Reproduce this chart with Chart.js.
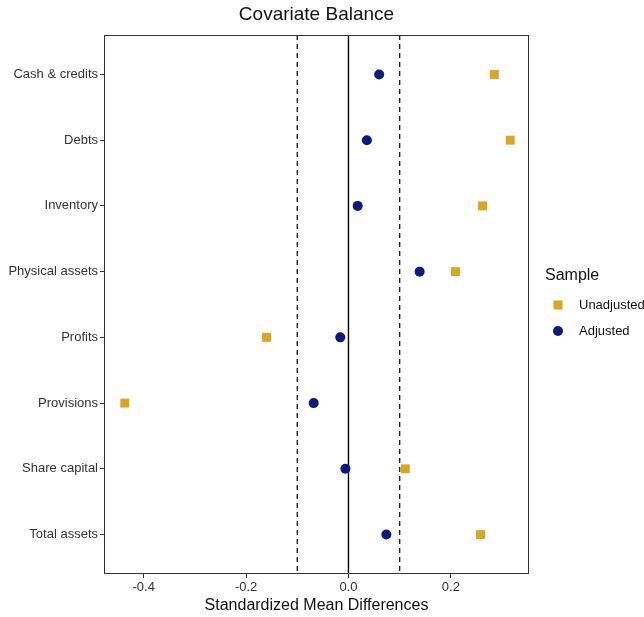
<!DOCTYPE html>
<html lang="en">
<head>
    <meta charset="UTF-8">
    <title>Covariate Balance</title>
    <script src="https://cdn.jsdelivr.net/npm/chart.js"></script>
    <style>
        html, body { margin: 0; padding: 0; background: #fff; }
        #wrap { width: 644px; height: 617px; }
    </style>
</head>
<body>
    <div id="wrap"><canvas id="balance-chart" width="644" height="617"></canvas></div>
    <script>
        // data
        const categories = ['Cash & credits', 'Debts', 'Inventory', 'Physical assets',
            'Profits', 'Provisions', 'Share capital', 'Total assets'];
        const unadjusted = [0.285, 0.316, 0.262, 0.209, -0.160, -0.437, 0.111, 0.258];
        const adjusted = [0.060, 0.036, 0.018, 0.139, -0.016, -0.068, -0.006, 0.074];
        const xTicks = [-0.4, -0.2, 0.0, 0.2];
        const thresholds = [-0.1, 0.1];

        const FONT = "'Liberation Sans', Arial, sans-serif";
        const ORANGE = '#DAA520';
        const NAVY = '#0B1A80';

        function toPoints(values) {
            return values.map((v, i) => ({ x: v, y: i + 1 }));
        }

        const decorPlugin = {
            id: 'decor',
            beforeDatasetsDraw(chart) {
                const { ctx, chartArea: a, scales: { x } } = chart;
                ctx.save();
                ctx.strokeStyle = '#000';
                ctx.lineWidth = 1.4;
                ctx.beginPath();
                const x0 = x.getPixelForValue(0);
                ctx.moveTo(x0, a.top);
                ctx.lineTo(x0, a.bottom);
                ctx.stroke();
                ctx.strokeStyle = '#222';
                ctx.setLineDash([5, 4]);
                thresholds.forEach(t => {
                    const px = x.getPixelForValue(t);
                    ctx.beginPath();
                    ctx.moveTo(px, a.top);
                    ctx.lineTo(px, a.bottom);
                    ctx.stroke();
                });
                ctx.restore();
            },
            afterDraw(chart) {
                const { ctx, chartArea: a } = chart;
                ctx.save();
                ctx.strokeStyle = '#333';
                ctx.lineWidth = 1;
                ctx.strokeRect(a.left + 0.5, a.top + 0.5, a.right - a.left - 1, a.bottom - a.top - 1);

                // title centred over the panel
                ctx.fillStyle = '#111';
                ctx.font = '19px ' + FONT;
                ctx.textAlign = 'center';
                ctx.textBaseline = 'middle';
                ctx.fillText('Covariate Balance', (a.left + a.right) / 2, 15);

                // legend
                ctx.textAlign = 'left';
                ctx.font = '16px ' + FONT;
                ctx.fillText('Sample', 545, 276);
                ctx.font = '13px ' + FONT;
                ctx.fillStyle = ORANGE;
                ctx.fillRect(553.5, 300.5, 9, 9);
                ctx.fillStyle = NAVY;
                ctx.beginPath();
                ctx.arc(558, 331, 5, 0, Math.PI * 2);
                ctx.fill();
                ctx.fillStyle = '#111';
                ctx.fillText('Unadjusted', 579, 305);
                ctx.fillText('Adjusted', 579, 331);
                ctx.restore();
            }
        };

        const ctx = document.getElementById('balance-chart').getContext('2d');
        const chart = new Chart(ctx, {
            type: 'scatter',
            data: {
                datasets: [{
                    label: 'Unadjusted',
                    data: toPoints(unadjusted),
                    pointStyle: 'rect',
                    pointRadius: 6.3,
                    pointHoverRadius: 6.3,
                    backgroundColor: ORANGE,
                    borderColor: ORANGE,
                    borderWidth: 0
                }, {
                    label: 'Adjusted',
                    data: toPoints(adjusted),
                    pointStyle: 'circle',
                    pointRadius: 5,
                    pointHoverRadius: 5,
                    backgroundColor: NAVY,
                    borderColor: NAVY,
                    borderWidth: 0
                }]
            },
            options: {
                responsive: false,
                animation: false,
                layout: { padding: { top: 35, right: 115, left: 0, bottom: 0 } },
                plugins: {
                    legend: { display: false },
                    title: { display: false },
                    tooltip: { enabled: false }
                },
                scales: {
                    x: {
                        type: 'linear',
                        min: -0.4776,
                        max: 0.3527,
                        afterBuildTicks: scale => { scale.ticks = xTicks.map(v => ({ value: v })); },
                        afterFit: scale => { scale.height = 43; },
                        grid: { drawOnChartArea: false, tickLength: 4, color: '#333' },
                        border: { display: false },
                        ticks: {
                            padding: 2,
                            color: '#333',
                            font: { family: FONT, size: 13 },
                            callback: v => v.toFixed(1)
                        },
                        title: {
                            display: true,
                            text: 'Standardized Mean Differences',
                            color: '#111',
                            font: { family: FONT, size: 16 },
                            padding: { top: 0, bottom: 2 }
                        }
                    },
                    y: {
                        type: 'linear',
                        reverse: true,
                        min: 0.4,
                        max: 8.6,
                        afterBuildTicks: scale => { scale.ticks = categories.map((c, i) => ({ value: i + 1 })); },
                        afterFit: scale => { scale.width = 104; },
                        grid: { drawOnChartArea: false, tickLength: 4, color: '#333' },
                        border: { display: false },
                        ticks: {
                            padding: 2,
                            color: '#333',
                            font: { family: FONT, size: 13 },
                            callback: v => categories[v - 1]
                        }
                    }
                }
            },
            plugins: [decorPlugin]
        });
    </script>
</body>
</html>
